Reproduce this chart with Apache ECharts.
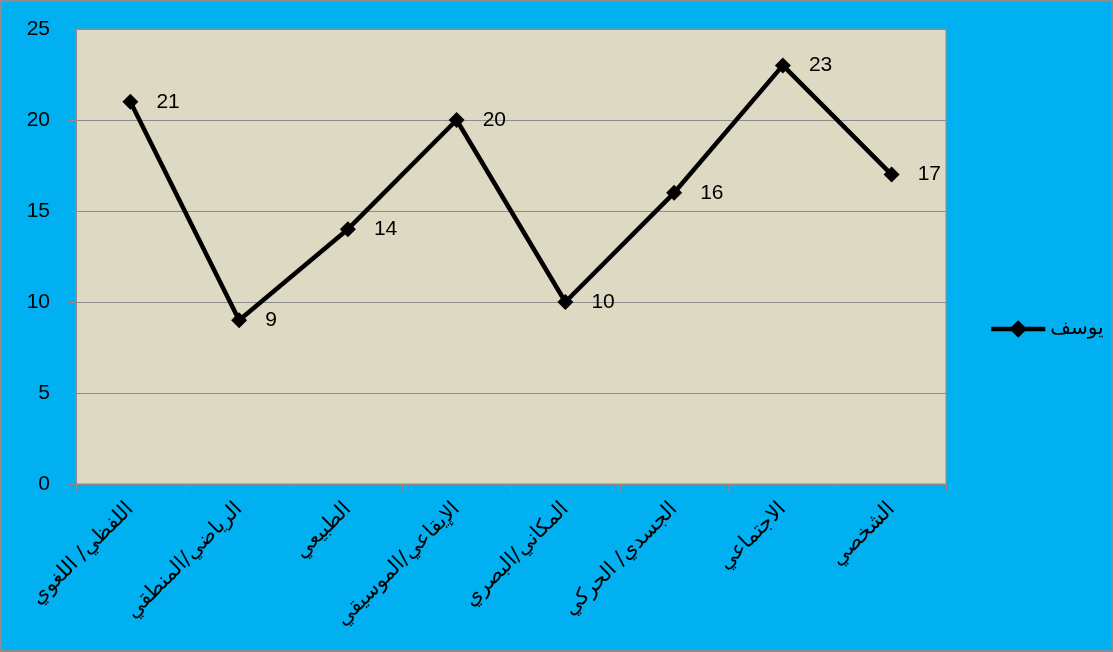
<!DOCTYPE html>
<html>
<head>
<meta charset="utf-8">
<script src="https://cdn.jsdelivr.net/npm/echarts@6/dist/echarts.min.js"></script>
<style>
  html, body { margin: 0; padding: 0; background: #00B0F0; }
  #chart { width: 1113px; height: 652px; box-sizing: border-box; border: 2px solid #8C8C8C; }
</style>
</head>
<body>
<div id="chart"></div>
<script>
// categories and values
const categories = ['اللفظي/ اللغوي', 'الرياضي/المنطقي', 'الطبيعي', 'الإيقاعي/الموسيقي', 'المكاني/البصري', 'الجسدي/ الحركي', 'الاجتماعي', 'الشخصي'];
const yousefValues = [21, 9, 14, 20, 10, 16, 23, 17];
const seriesName = 'يوسف';

const chart = echarts.init(document.getElementById('chart'));

const option = {
  backgroundColor: '#00B0F0',
  textStyle: { fontFamily: 'Liberation Sans, DejaVu Sans, sans-serif' },
  grid: {
    left: 74,
    right: 165,
    top: 27,
    bottom: 166,
    show: true,
    backgroundColor: '#DDD9C3',
    borderColor: '#8C8C8C',
    borderWidth: 1
  },
  legend: {
    data: [seriesName],
    orient: 'vertical',
    left: 982,
    top: 312,
    itemWidth: 54,
    itemHeight: 22,
    itemGap: 4,
    lineStyle: { width: 4.5, color: '#000' },
    textStyle: { fontSize: 20, color: '#000', fontFamily: 'DejaVu Sans' }
  },
  xAxis: {
    type: 'category',
    data: categories,
    boundaryGap: true,
    axisLine: { lineStyle: { color: '#8C8C8C', width: 1 } },
    axisTick: { show: true, length: 8, lineStyle: { color: '#8C8C8C' } },
    axisLabel: {
      rotate: 45,
      interval: 0,
      fontSize: 21,
      color: '#000',
      margin: 22,
      fontFamily: 'DejaVu Sans'
    }
  },
  yAxis: {
    type: 'value',
    min: 0,
    max: 25,
    interval: 5,
    axisLine: { show: true, lineStyle: { color: '#8C8C8C' } },
    axisTick: { show: true, length: 8, lineStyle: { color: '#8C8C8C' } },
    axisLabel: { fontSize: 21, color: '#000', margin: 26 },
    splitLine: { lineStyle: { color: '#8C8C8C', width: 1 } }
  },
  series: [
    {
      name: seriesName,
      type: 'line',
      data: yousefValues,
      symbol: 'diamond',
      symbolSize: 16,
      lineStyle: { color: '#000', width: 4.5 },
      itemStyle: { color: '#000' },
      label: {
        show: true,
        position: 'right',
        distance: 18,
        fontSize: 21,
        color: '#000'
      },
      animation: false
    }
  ],
  animation: false
};

chart.setOption(option);
</script>
</body>
</html>
